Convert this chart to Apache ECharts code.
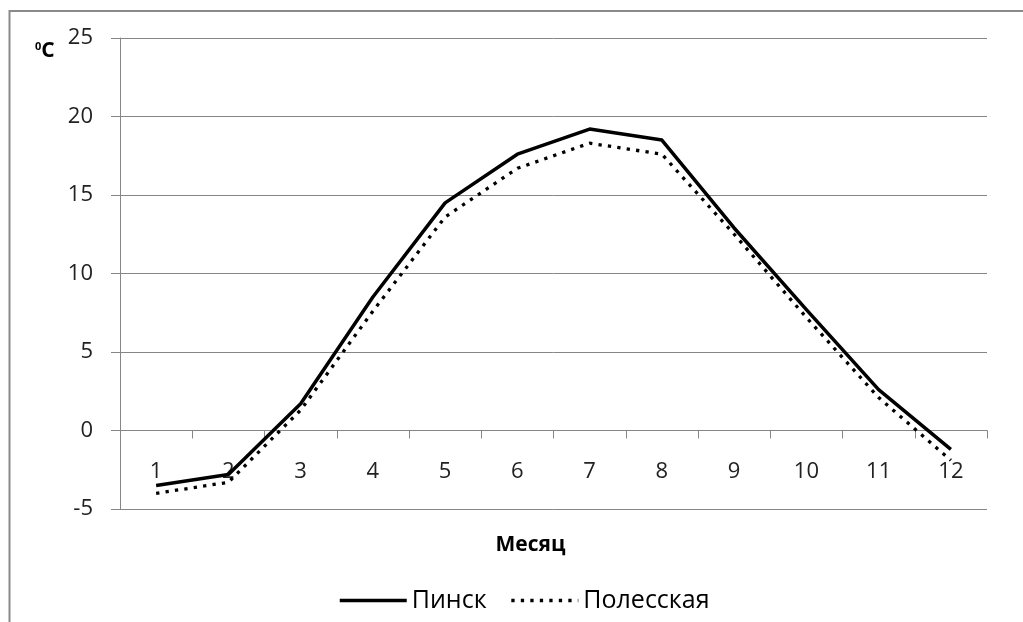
<!DOCTYPE html>
<html>
<head>
<meta charset="utf-8">
<script src="https://cdn.jsdelivr.net/npm/echarts@6/dist/echarts.min.js"></script>
<style>
html,body{margin:0;padding:0;background:#fff;}
#c{width:1023px;height:622px;}
</style>
</head>
<body>
<div id="c"></div>
<script>
const months = ['1','2','3','4','5','6','7','8','9','10','11','12'];
const pinsk = [-3.5, -2.8, 1.7, 8.5, 14.5, 17.6, 19.2, 18.5, 12.9, 7.7, 2.6, -1.2];
const polesskaya = [-4.0, -3.3, 1.3, 7.6, 13.6, 16.7, 18.3, 17.6, 12.5, 7.2, 2.1, -1.9];
const seriesNames = ['Пинск', 'Полесская'];
const yTicks = { min: -5, max: 25, interval: 5 };

const FONT = 'Open Sans';
const chart = echarts.init(document.getElementById('c'), null, { renderer: 'canvas' });
chart.setOption({
  animation: false,
  backgroundColor: '#ffffff',
  textStyle: { fontFamily: FONT },
  title: {
    text: '{s|0}{c|C}',
    left: 30,
    top: 36,
    textStyle: {
      rich: {
        s: { fontSize: 11, fontWeight: 'bold', color: '#000', fontFamily: FONT, verticalAlign: 'top', padding: [0, 0, 8, 0] },
        c: { fontSize: 21, fontWeight: 'bold', color: '#000', fontFamily: FONT }
      }
    }
  },
  graphic: [{
    type: 'rect',
    shape: { x: 9.5, y: 11, width: 1100, height: 700 },
    style: { fill: 'none', stroke: '#8a8a8a', lineWidth: 2 },
    silent: true
  }],
  grid: { left: 120, right: 36, top: 38, bottom: 113, containLabel: false, outerBoundsMode: 'none' },
  legend: {
    bottom: 4,
    left: 333,
    itemWidth: 67,
    itemHeight: 14,
    itemGap: 23,
    itemStyle: { opacity: 0 },
    lineStyle: { width: 3.5 },
    textStyle: { fontSize: 25, color: '#000', fontFamily: FONT },
    data: seriesNames
  },
  xAxis: {
    type: 'category',
    data: months,
    boundaryGap: true,
    name: 'Месяц',
    nameLocation: 'middle',
    nameGap: 104,
    nameTextStyle: { fontSize: 21, fontWeight: 'bold', color: '#000', fontFamily: FONT, padding: [0, 46, 0, 0] },
    axisLine: { onZero: false, lineStyle: { color: '#868686', width: 1 } },
    axisTick: { show: true, alignWithLabel: false, inside: false, length: 8, lineStyle: { color: '#868686' } },
    axisLabel: { fontSize: 22, color: '#222', margin: 30, fontFamily: FONT },
    splitLine: { show: false }
  },
  yAxis: {
    type: 'value',
    min: yTicks.min,
    max: yTicks.max,
    interval: yTicks.interval,
    axisLine: { show: true, lineStyle: { color: '#868686', width: 1 } },
    axisTick: { show: true, length: 9, lineStyle: { color: '#868686' } },
    axisLabel: { fontSize: 22, color: '#222', margin: 27, fontFamily: FONT },
    splitLine: { show: true, lineStyle: { color: '#868686', width: 1 } }
  },
  series: [
    {
      name: seriesNames[0],
      type: 'line',
      data: pinsk,
      symbol: 'none',
      color: '#000',
      lineStyle: { color: '#000', width: 3.5, type: 'solid', join: 'round' }
    },
    {
      name: seriesNames[1],
      type: 'line',
      data: polesskaya,
      symbol: 'none',
      color: '#000',
      lineStyle: { color: '#000', width: 3.3, type: [3.3, 6.2], cap: 'butt' }
    }
  ]
});
// Move the category axis up to the zero line using the library's own scale
const yZero = chart.convertToPixel({ yAxisIndex: 0 }, 0);
const yBottom = chart.convertToPixel({ yAxisIndex: 0 }, yTicks.min);
chart.setOption({ xAxis: { offset: -(yBottom - yZero) } });
</script>
</body>
</html>
